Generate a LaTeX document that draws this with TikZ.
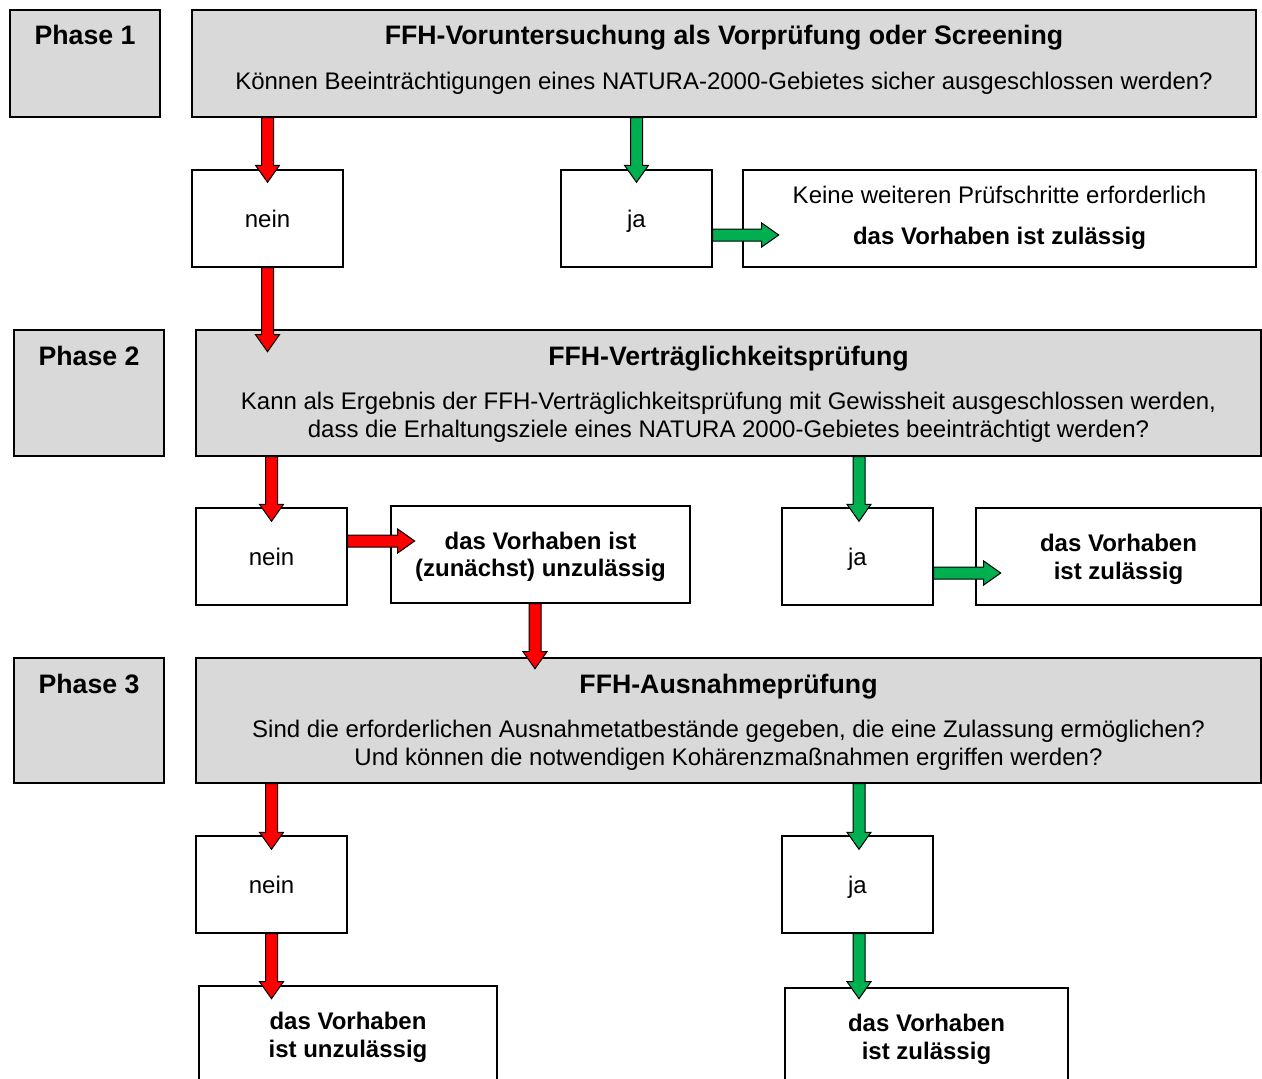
\documentclass[tikz,border=0pt]{standalone}
\usepackage{fontspec}
\setmainfont{Liberation Sans}
\usetikzlibrary{calc}
\definecolor{boxgray}{HTML}{D9D9D9}
\definecolor{arrred}{HTML}{FF0000}
\definecolor{arrgreen}{HTML}{00B050}
\newcommand\blockarrow[3]{%
  \coordinate (bahead) at ($(#3)!17pt!(#2)$);
  \filldraw[fill=#1, draw=black, line width=1pt, line join=miter]
   ($(#2)!6pt!90:(#3)$) -- ($(bahead)!6pt!90:(#3)$) -- ($(bahead)!12pt!90:(#3)$) -- (#3)
   -- ($(bahead)!12pt!-90:(#3)$) -- ($(bahead)!6pt!-90:(#3)$) -- ($(#2)!6pt!-90:(#3)$) -- cycle;}
\tikzset{
  whitebox/.style={draw=black, line width=1.4pt, fill=white, inner sep=0pt, text height=17.2pt, text depth=0pt, font=\fontsize{24}{28}\selectfont},
  graybox/.style={draw=black, line width=1.4pt, fill=boxgray, inner sep=0pt},
  bodytxt/.style={inner sep=0pt, anchor=base, font=\fontsize{24}{28}\selectfont},
  boldtxt/.style={inner sep=0pt, anchor=base, font=\fontsize{24}{28}\selectfont\bfseries},
  titletxt/.style={inner sep=0pt, anchor=base, font=\fontsize{26.7}{30}\selectfont\bfseries},
}
\begin{document}
\begin{tikzpicture}[x=1pt,y=-1pt]
\useasboundingbox (0,0) rectangle (1262,1079);
% Phase 1
\node[graybox, minimum width=150pt, minimum height=107pt] (ph1) at (85,63.5) {};
\node[graybox, minimum width=1064pt, minimum height=107pt] (box1) at (724,63.5) {};
\node[whitebox, minimum width=151pt, minimum height=97pt] (nein1) at (267.5,218.5) {nein};
\node[whitebox, minimum width=151pt, minimum height=97pt] (ja1) at (636.5,218.5) {ja};
\node[whitebox, minimum width=513pt, minimum height=97pt] (res1) at (999.5,218.5) {};
% Phase 2
\node[graybox, minimum width=150pt, minimum height=126pt] (ph2) at (89,393) {};
\node[graybox, minimum width=1065pt, minimum height=126pt] (box2) at (728.5,393) {};
\node[whitebox, minimum width=151pt, minimum height=97pt] (nein2) at (271.5,556.5) {nein};
\node[whitebox, minimum width=299pt, minimum height=97pt] (unz) at (540.5,554.5) {};
\node[whitebox, minimum width=151pt, minimum height=97pt] (ja2) at (857.5,556.5) {ja};
\node[whitebox, minimum width=285pt, minimum height=97pt] (zul) at (1118.5,556.5) {};
% Phase 3
\node[graybox, minimum width=150pt, minimum height=125pt] (ph3) at (89,720.5) {};
\node[graybox, minimum width=1065pt, minimum height=125pt] (box3) at (728.5,720.5) {};
\node[whitebox, minimum width=151pt, minimum height=97pt] (nein3) at (271.5,884.5) {nein};
\node[whitebox, minimum width=151pt, minimum height=97pt] (ja3) at (857.5,884.5) {ja};
\node[whitebox, minimum width=298pt, minimum height=114pt] (end1) at (348,1043) {};
\node[whitebox, minimum width=283pt, minimum height=112pt] (end2) at (926.5,1044) {};
% texts
\node[titletxt] (tph1) at (85,44) {Phase 1};
\node[titletxt] (tph2) at (89,365) {Phase 2};
\node[titletxt] (tph3) at (89,693) {Phase 3};
\node[titletxt] (tb1) at (724,44) {FFH-Voruntersuchung als Vorprüfung oder Screening};
\node[bodytxt] (tb1a) at (724,89) {Können Beeinträchtigungen eines NATURA-2000-Gebietes sicher ausgeschlossen werden?};
\node[bodytxt] (tr1a) at (999.5,203) {Keine weiteren Prüfschritte erforderlich};
\node[boldtxt] (tr1b) at (999.5,244) {das Vorhaben ist zulässig};
\node[titletxt] (tb2) at (728.5,365) {FFH-Verträglichkeitsprüfung};
\node[bodytxt] (tb2a) at (728.5,409) {Kann als Ergebnis der FFH-Verträglichkeitsprüfung mit Gewissheit ausgeschlossen werden,};
\node[bodytxt] (tb2b) at (728.5,437) {dass die Erhaltungsziele eines NATURA 2000-Gebietes beeinträchtigt werden?};
\node[boldtxt] (tu1) at (540.5,549) {das Vorhaben ist};
\node[boldtxt] (tu2) at (540.5,576) {(zunächst) unzulässig};
\node[boldtxt] (tz1) at (1118.5,551) {das Vorhaben};
\node[boldtxt] (tz2) at (1118.5,579) {ist zulässig};
\node[titletxt] (tb3) at (728.5,693) {FFH-Ausnahmeprüfung};
\node[bodytxt] (tb3a) at (728.5,737) {Sind die erforderlichen Ausnahmetatbestände gegeben, die eine Zulassung ermöglichen?};
\node[bodytxt] (tb3b) at (728.5,765) {Und können die notwendigen Kohärenzmaßnahmen ergriffen werden?};
\node[boldtxt] (te1a) at (348,1029) {das Vorhaben};
\node[boldtxt] (te1b) at (348,1057) {ist unzulässig};
\node[boldtxt] (te2a) at (926.5,1031) {das Vorhaben};
\node[boldtxt] (te2b) at (926.5,1059) {ist zulässig};
% arrows
\coordinate (a1s) at (nein1.north |- box1.south); \coordinate (a1e) at ($(nein1.north)+(0,13)$);
\blockarrow{arrred}{a1s}{a1e}
\coordinate (a2s) at (ja1.north |- box1.south); \coordinate (a2e) at ($(ja1.north)+(0,13)$);
\blockarrow{arrgreen}{a2s}{a2e}
\coordinate (a3s) at ($(ja1.east)+(0,16.5)$); \coordinate (a3e) at ($(ja1.east)+(66,16.5)$);
\blockarrow{arrgreen}{a3s}{a3e}
\coordinate (a4s) at (nein1.south); \coordinate (a4e) at ($(nein1.south)+(0,84)$);
\blockarrow{arrred}{a4s}{a4e}
\coordinate (a5s) at (nein2.north |- box2.south); \coordinate (a5e) at ($(nein2.north)+(0,14)$);
\blockarrow{arrred}{a5s}{a5e}
\coordinate (a6s) at ($(nein2.east)+(0,-15.5)$); \coordinate (a6e) at ($(nein2.east)+(67,-15.5)$);
\blockarrow{arrred}{a6s}{a6e}
\coordinate (a7s) at ($(ja2.north |- box2.south)+(1.5,0)$); \coordinate (a7e) at ($(ja2.north)+(1.5,14)$);
\blockarrow{arrgreen}{a7s}{a7e}
\coordinate (a8s) at ($(ja2.east)+(0,16.5)$); \coordinate (a8e) at ($(ja2.east)+(67,16.5)$);
\blockarrow{arrgreen}{a8s}{a8e}
\coordinate (a9s) at ($(unz.south)+(-5.5,0)$); \coordinate (a9e) at ($(unz.south)+(-5.5,65)$);
\blockarrow{arrred}{a9s}{a9e}
\coordinate (a10s) at (nein3.north |- box3.south); \coordinate (a10e) at ($(nein3.north)+(0,14)$);
\blockarrow{arrred}{a10s}{a10e}
\coordinate (a11s) at ($(ja3.north |- box3.south)+(1.5,0)$); \coordinate (a11e) at ($(ja3.north)+(1.5,14)$);
\blockarrow{arrgreen}{a11s}{a11e}
\coordinate (a12s) at (nein3.south); \coordinate (a12e) at ($(nein3.south)+(0,65)$);
\blockarrow{arrred}{a12s}{a12e}
\coordinate (a13s) at ($(ja3.south)+(1.5,0)$); \coordinate (a13e) at ($(ja3.south)+(1.5,65)$);
\blockarrow{arrgreen}{a13s}{a13e}
\end{tikzpicture}
\end{document}
